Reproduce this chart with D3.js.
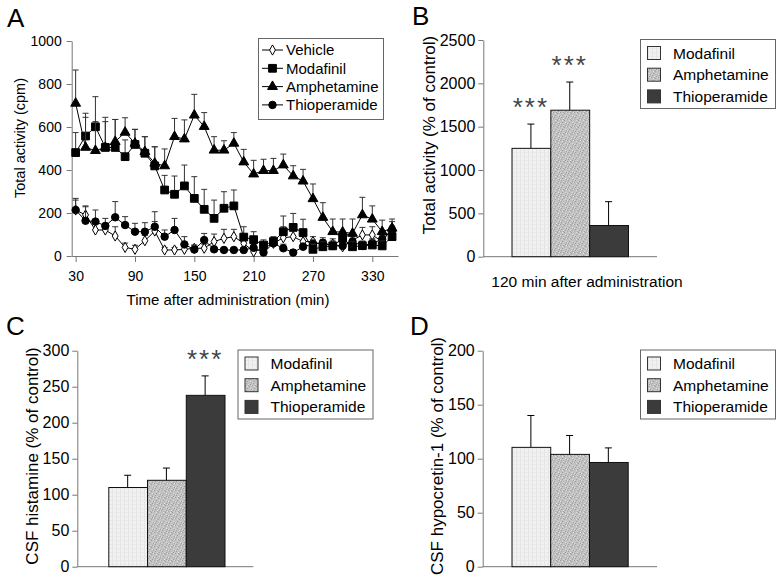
<!DOCTYPE html>
<html>
<head>
<meta charset="utf-8">
<script src="https://cdn.jsdelivr.net/npm/d3@7"></script>
<style>
  body { margin: 0; background: #fff; }
  svg { font-family: "Liberation Sans", Arial, sans-serif; }
</style>
</head>
<body>
<svg id="chart" width="779" height="580"></svg>
<script>
// time course (panel A), min after administration
const times = [30, 40, 50, 60, 70, 80, 90, 100, 110, 120, 130, 140, 150, 160, 170, 180, 190,
  200, 210, 220, 230, 240, 250, 260, 270, 280, 290, 300, 310, 320, 330, 340, 350];
const vehicle = [214, 191, 121, 121, 93, 40, 31, 71, 116, 28, 28, 31, 36, 36, 67, 82, 90,
  59, 20, 36, 59, 85, 90, 67, 67, 51, 56, 43, 74, 98, 98, 67, 129];
const vehicleSem = [46, 38, 29, 29, 43, 20, 19, 24, 44, 12, 12, 14, 14, 19, 35, 42, 34,
  26, 15, 19, 26, 51, 40, 23, 23, 24, 24, 22, 26, 35, 38, 28, 31];
const modafinil = [481, 558, 601, 505, 505, 462, 519, 478, 419, 307, 287, 326, 268, 217, 175, 222, 233,
  88, 76, 51, 67, 113, 133, 109, 31, 43, 47, 82, 43, 48, 51, 47, 90];
const modafinilSem = [93, 106, 140, 140, 130, 78, 70, 77, 89, 68, 85, 97, 101, 93, 85, 77, 74,
  48, 37, 24, 23, 73, 65, 62, 24, 22, 23, 33, 22, 22, 24, 23, 35];
const amphetamine = [710, 505, 490, 505, 532, 575, 524, 485, 431, 419, 555, 544, 655, 602, 492, 492, 524,
  437, 381, 397, 397, 423, 372, 348, 266, 179, 113, 111, 105, 191, 171, 113, 129];
const amphetamineSem = [155, 140, 135, 120, 103, 68, 65, 70, 77, 79, 85, 89, 97, 65, 63, 44, 50,
  59, 64, 53, 57, 51, 48, 55, 69, 69, 59, 61, 67, 82, 62, 54, 43];
const thioperamide = [214, 164, 160, 140, 180, 144, 113, 113, 136, 90, 121, 54, 30, 74, 31, 28, 28,
  28, 38, 16, 59, 36, 16, 43, 56, 62, 47, 47, 67, 47, 59, 78, 121];
const thioperamideSem = [54, 69, 54, 35, 73, 39, 39, 42, 70, 31, 54, 36, 21, 31, 14, 12, 12,
  12, 17, 14, 21, 19, 14, 17, 19, 23, 18, 18, 23, 18, 21, 22, 19];
const timeTicks = [30, 90, 150, 210, 270, 330];
const activityTicks = [0, 200, 400, 600, 800, 1000];

// bar panels
const drugs = ["Modafinil", "Amphetamine", "Thioperamide"];
const activity120 = [1250, 1690, 360];
const activity120Sem = [280, 325, 275];
const activity120Sig = ["***", "***", ""];
const histamine = [110, 120, 238];
const histamineSem = [17, 17, 27];
const histamineSig = ["", "", "***"];
const hypocretin = [110.5, 104, 96.5];
const hypocretinSem = [29.5, 17.5, 13.5];
const hypocretinSig = ["", "", ""];

const svg = d3.select("#chart");
const axisColor = "#777";
const fmt = d3.format("d");

// fills for the bars
const defs = svg.append("defs");
const pm = defs.append("pattern").attr("id", "pMod").attr("patternUnits", "userSpaceOnUse")
  .attr("width", 4).attr("height", 4);
pm.append("rect").attr("width", 4).attr("height", 4).attr("fill", "#f1f1f1");
pm.append("rect").attr("width", 1).attr("height", 4).attr("fill", "#e4e4e4");
pm.append("rect").attr("width", 4).attr("height", 1).attr("fill", "#e9e9e9");
// stipple tile for amphetamine
const pa = defs.append("pattern").attr("id", "pAmp").attr("patternUnits", "userSpaceOnUse")
  .attr("width", 7).attr("height", 7);
pa.append("rect").attr("width", 7).attr("height", 7).attr("fill", "#c2c2c2");
[[0, 0], [4, 1], [2, 3], [6, 4], [1, 5], [5, 6], [3, 0]].forEach(([px, py]) =>
  pa.append("rect").attr("x", px).attr("y", py).attr("width", 1).attr("height", 1).attr("fill", "#a0a0a0"));
[[2, 1], [5, 3], [0, 4], [3, 6], [6, 0]].forEach(([px, py]) =>
  pa.append("rect").attr("x", px).attr("y", py).attr("width", 1).attr("height", 1).attr("fill", "#dedede"));
const drugFill = { Modafinil: "url(#pMod)", Amphetamine: "url(#pAmp)", Thioperamide: "#3b3b3b" };

function styleAxis(g) {
  g.selectAll(".domain").attr("stroke", axisColor);
  g.selectAll(".tick line").attr("stroke", axisColor);
  g.selectAll(".tick text").attr("fill", "#000");
}

// ---------- panel A ----------
(function () {
  const x = d3.scaleLinear().domain([26, 356]).range([71.7, 398]);
  const y = d3.scaleLinear().domain([0, 1000]).range([256, 41]);

  svg.append("text").attr("x", 7).attr("y", 27).attr("font-size", 26).text("A");

  const gy = svg.append("g").attr("transform", "translate(71.7,0)")
    .call(d3.axisLeft(y).tickValues(activityTicks).tickFormat(fmt).tickSize(5).tickPadding(5).tickSizeOuter(0));
  gy.attr("font-size", 14).attr("font-family", null);
  styleAxis(gy);
  const gx = svg.append("g").attr("transform", "translate(0,256)")
    .call(d3.axisBottom(x).tickValues(timeTicks).tickFormat(fmt).tickSize(6).tickPadding(9).tickSizeOuter(0));
  gx.attr("font-size", 14).attr("font-family", null);
  styleAxis(gx);

  svg.append("text").attr("x", 228).attr("y", 305).attr("text-anchor", "middle")
    .attr("font-size", 15).text("Time after administration (min)");
  svg.append("text").attr("transform", "translate(20,138) rotate(-90)").attr("dy", "0.35em")
    .attr("text-anchor", "middle").attr("font-size", 14.5).text("Total activity (cpm)");

  const series = [
    { name: "Vehicle", mean: vehicle, sem: vehicleSem, sym: d3.symbolDiamond, size: 30, fill: "#fff" },
    { name: "Thioperamide", mean: thioperamide, sem: thioperamideSem, sym: d3.symbolCircle, size: 44, fill: "#000" },
    { name: "Modafinil", mean: modafinil, sem: modafinilSem, sym: d3.symbolSquare, size: 60, fill: "#000" },
    { name: "Amphetamine", mean: amphetamine, sem: amphetamineSem, sym: d3.symbolTriangle, size: 42, fill: "#000" }
  ];
  const line = d3.line().x(d => x(d.t)).y(d => y(d.v));

  series.forEach(s => {
    const pts = times.map((t, i) => ({ t: t, v: s.mean[i], e: s.sem[i] }));
    const g = svg.append("g");
    g.selectAll(".eb").data(pts).join("path").attr("class", "eb")
      .attr("d", d => `M${x(d.t)},${y(d.v)}V${y(d.v + d.e)}M${x(d.t) - 3},${y(d.v + d.e)}H${x(d.t) + 3}`)
      .attr("stroke", "#333").attr("stroke-width", 1).attr("fill", "none");
    g.append("path").datum(pts).attr("d", line).attr("fill", "none").attr("stroke", "#000").attr("stroke-width", 1);
    g.selectAll(".mk").data(pts).join("path").attr("class", "mk")
      .attr("transform", d => `translate(${x(d.t)},${y(d.v)})`)
      .attr("d", d3.symbol().type(s.sym).size(s.size))
      .attr("fill", s.fill).attr("stroke", "#000").attr("stroke-width", 1);
  });

  // legend
  const lg = svg.append("g");
  lg.append("rect").attr("x", 258.5).attr("y", 38.5).attr("width", 125).attr("height", 81)
    .attr("fill", "#fff").attr("stroke", "#666");
  const legendOrder = ["Vehicle", "Modafinil", "Amphetamine", "Thioperamide"];
  legendOrder.forEach((name, i) => {
    const s = series.find(d => d.name === name);
    const ly = 50 + i * 18.3;
    lg.append("line").attr("x1", 262).attr("x2", 283).attr("y1", ly).attr("y2", ly).attr("stroke", "#000");
    lg.append("path").attr("transform", `translate(272.5,${ly})`)
      .attr("d", d3.symbol().type(s.sym).size(s.size)).attr("fill", s.fill).attr("stroke", "#000");
    lg.append("text").attr("x", 286).attr("y", ly).attr("dy", "0.36em").attr("font-size", 15).text(name);
  });
})();

// ---------- bar panels ----------
function barPanel(o) {
  const y = d3.scaleLinear().domain([0, o.max]).range([o.yBot, o.yTop]);
  const x = d3.scaleBand().domain(drugs).range([o.barL, o.barR]).padding(0);

  svg.append("text").attr("x", o.letterX).attr("y", o.letterY).attr("font-size", 26).text(o.letter);

  const gy = svg.append("g").attr("transform", `translate(${o.axisL},0)`)
    .call(d3.axisLeft(y).tickValues(o.ticks).tickFormat(fmt).tickSize(5).tickPadding(3).tickSizeOuter(0));
  gy.attr("font-size", 16).attr("font-family", null);
  styleAxis(gy);
  svg.append("line").attr("x1", o.axisL).attr("x2", o.axisR).attr("y1", o.yBot).attr("y2", o.yBot)
    .attr("stroke", axisColor);

  svg.append("text").attr("transform", `translate(${o.ylabX},${o.ylabY}) rotate(-90)`).attr("dy", "0.35em")
    .attr("text-anchor", "middle").attr("font-size", 17).text(o.ylabel);
  if (o.xlabel) {
    svg.append("text").attr("x", o.xlabX).attr("y", o.xlabY).attr("text-anchor", "middle")
      .attr("font-size", 15.5).text(o.xlabel);
  }

  const rows = drugs.map((d, i) => ({ drug: d, v: o.values[i], e: o.sems[i], sig: o.sig[i] }));
  const g = svg.append("g");
  g.selectAll(".eb").data(rows).join("path").attr("class", "eb")
    .attr("d", d => {
      const cx = x(d.drug) + x.bandwidth() / 2;
      return `M${cx},${y(d.v)}V${y(d.v + d.e)}M${cx - 3.5},${y(d.v + d.e)}H${cx + 3.5}`;
    })
    .attr("stroke", "#000").attr("fill", "none");
  g.selectAll(".bar").data(rows).join("rect").attr("class", "bar")
    .attr("x", d => x(d.drug) + 0.5).attr("y", d => y(d.v))
    .attr("width", x.bandwidth()).attr("height", d => o.yBot - y(d.v))
    .attr("fill", d => drugFill[d.drug]).attr("stroke", "#111").attr("stroke-width", 1);
  g.selectAll(".sig").data(rows.filter(d => d.sig)).join("text").attr("class", "sig")
    .attr("x", d => x(d.drug) + x.bandwidth() / 2).attr("y", d => y(d.v + d.e) - 8)
    .attr("text-anchor", "middle").attr("font-size", 26).attr("letter-spacing", 2)
    .attr("fill", "#444").text(d => d.sig);

  // legend
  const lg = svg.append("g");
  lg.append("rect").attr("x", o.legX + 0.5).attr("y", o.legY + 0.5).attr("width", 135).attr("height", 69)
    .attr("fill", "#fff").attr("stroke", "#666");
  drugs.forEach((d, i) => {
    const cy = o.legY + 14 + i * 21.7;
    lg.append("rect").attr("x", o.legX + 7.5).attr("y", cy - 6.5).attr("width", 13).attr("height", 13)
      .attr("fill", drugFill[d]).attr("stroke", "#333");
    lg.append("text").attr("x", o.legX + 33).attr("y", cy).attr("dy", "0.36em").attr("font-size", 15.5).text(d);
  });
}

barPanel({
  letter: "B", letterX: 412, letterY: 25,
  axisL: 483.3, axisR: 657, barL: 511.5, barR: 628, yTop: 40, yBot: 256.7,
  max: 2500, ticks: [0, 500, 1000, 1500, 2000, 2500],
  values: activity120, sems: activity120Sem, sig: activity120Sig,
  ylabel: "Total activity (% of control)", ylabX: 429, ylabY: 135,
  xlabel: "120 min after administration", xlabX: 587, xlabY: 287,
  legX: 640, legY: 39
});
barPanel({
  letter: "C", letterX: 6, letterY: 335,
  axisL: 77.3, axisR: 253.3, barL: 108.3, barR: 224.5, yTop: 350.7, yBot: 566.7,
  max: 300, ticks: [0, 50, 100, 150, 200, 250, 300],
  values: histamine, sems: histamineSem, sig: histamineSig,
  ylabel: "CSF histamine (% of control)", ylabX: 32, ylabY: 456,
  legX: 237.5, legY: 349.5
});
barPanel({
  letter: "D", letterX: 410, letterY: 335,
  axisL: 482.7, axisR: 657, barL: 511.5, barR: 627.7, yTop: 350.7, yBot: 566.7,
  max: 200, ticks: [0, 50, 100, 150, 200],
  values: hypocretin, sems: hypocretinSem, sig: hypocretinSig,
  ylabel: "CSF hypocretin-1 (% of control)", ylabX: 437.5, ylabY: 456,
  legX: 640, legY: 349.5
});
</script>
</body>
</html>
